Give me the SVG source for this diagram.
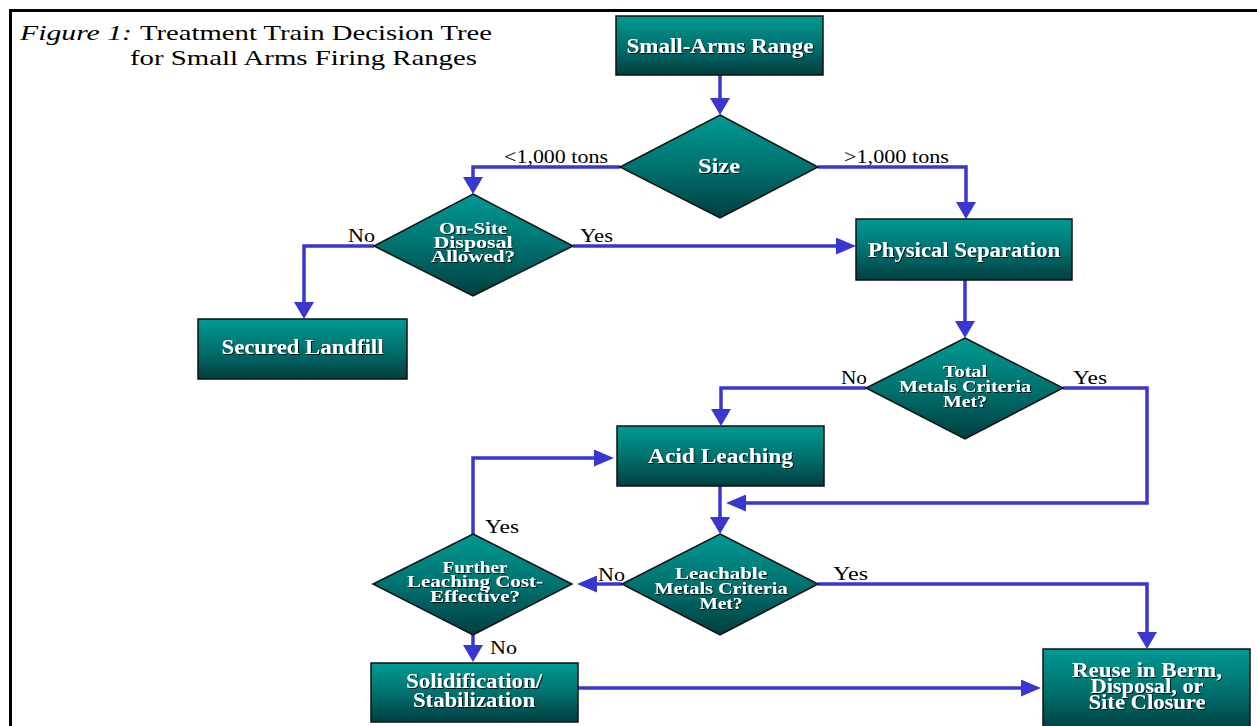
<svg xmlns="http://www.w3.org/2000/svg" width="1257" height="726" viewBox="0 0 1257 726">
<style>
.box{fill:url(#gr);stroke:#111;stroke-width:1.5}
.nt{fill:#fff;font-family:"Liberation Serif","Times New Roman",serif;font-weight:bold;font-size:20px;text-anchor:middle;filter:url(#sh)}
.dt{fill:#fff;font-family:"Liberation Serif","Times New Roman",serif;font-weight:bold;font-size:16px;text-anchor:middle;filter:url(#sh)}
.lb{fill:#000;font-family:"Liberation Serif","Times New Roman",serif;font-size:18px}
.ti{fill:#000;font-family:"Liberation Serif","Times New Roman",serif;font-size:21px}
.cn{fill:none;stroke:#3a36d0;stroke-width:3.5}
</style>
<defs>
<linearGradient id="gr" x1="0" y1="0" x2="0" y2="1">
<stop offset="0" stop-color="#009a94"/>
<stop offset="0.5" stop-color="#00726f"/>
<stop offset="1" stop-color="#003f40"/>
</linearGradient>
<filter id="sh" x="-10%" y="-30%" width="120%" height="160%">
<feDropShadow dx="1" dy="1" stdDeviation="0.6" flood-color="#000" flood-opacity="0.85"/>
</filter>
<marker id="av" markerUnits="userSpaceOnUse" viewBox="0 0 17 20" markerWidth="17" markerHeight="20" refX="12" refY="10" orient="auto">
<path d="M0,0 L17,10 L0,20 z" fill="#3a36d0"/>
</marker>
<marker id="ah" markerUnits="userSpaceOnUse" viewBox="0 0 20 17" markerWidth="20" markerHeight="17" refX="15" refY="8.5" orient="auto">
<path d="M0,0 L20,8.5 L0,17 z" fill="#3a36d0"/>
</marker>
</defs>
<rect width="1257" height="726" fill="#fff"/>
<g id="frame">
<path d="M10.5,726 V10.5 H1257" fill="none" stroke="#000" stroke-width="3"/>
</g>
<g id="title">
<text class="ti" x="20" y="40" font-style="italic" textLength="112" lengthAdjust="spacingAndGlyphs">Figure 1:</text>
<text class="ti" x="140" y="40" textLength="352" lengthAdjust="spacingAndGlyphs">Treatment Train Decision Tree</text>
<text class="ti" x="130" y="65" textLength="347" lengthAdjust="spacingAndGlyphs">for Small Arms Firing Ranges</text>
</g>
<g id="connectors">
<path class="cn" d="M720,75 V110" marker-end="url(#av)"/>
<path class="cn" d="M620,167 H473 V189" marker-end="url(#av)"/>
<path class="cn" d="M818,167 H966 V214" marker-end="url(#av)"/>
<path class="cn" d="M573,246 H851" marker-end="url(#ah)"/>
<path class="cn" d="M374,246 H304 V314" marker-end="url(#av)"/>
<path class="cn" d="M965,280 V333" marker-end="url(#av)"/>
<path class="cn" d="M866,388 H721 V421" marker-end="url(#av)"/>
<path class="cn" d="M1063,388 H1147 V503 H731" marker-end="url(#ah)"/>
<path class="cn" d="M720,486 V529" marker-end="url(#av)"/>
<path class="cn" d="M622,584 H582" marker-end="url(#ah)"/>
<path class="cn" d="M818,584 H1147 V644" marker-end="url(#av)"/>
<path class="cn" d="M473,534 V458 H609" marker-end="url(#ah)"/>
<path class="cn" d="M473,635 V657" marker-end="url(#av)"/>
<path class="cn" d="M578,688 H1036" marker-end="url(#ah)"/>
<text class="lb" x="504" y="163" textLength="104" lengthAdjust="spacingAndGlyphs">&lt;1,000 tons</text>
<text class="lb" x="844" y="163" textLength="105" lengthAdjust="spacingAndGlyphs">&gt;1,000 tons</text>
<text class="lb" x="348" y="242" textLength="27" lengthAdjust="spacingAndGlyphs">No</text>
<text class="lb" x="580" y="242" textLength="33" lengthAdjust="spacingAndGlyphs">Yes</text>
<text class="lb" x="841" y="384" textLength="26" lengthAdjust="spacingAndGlyphs">No</text>
<text class="lb" x="1073" y="384" textLength="34" lengthAdjust="spacingAndGlyphs">Yes</text>
<text class="lb" x="485" y="533" textLength="34" lengthAdjust="spacingAndGlyphs">Yes</text>
<text class="lb" x="598" y="581" textLength="27" lengthAdjust="spacingAndGlyphs">No</text>
<text class="lb" x="833" y="580" textLength="35" lengthAdjust="spacingAndGlyphs">Yes</text>
<text class="lb" x="490" y="654" textLength="27" lengthAdjust="spacingAndGlyphs">No</text>
</g>
<g id="small-arms-range">
<rect class="box" x="616" y="16" width="207" height="59"/>
<text class="nt" x="720" y="53" textLength="187" lengthAdjust="spacingAndGlyphs">Small-Arms Range</text>
</g>
<g id="size">
<polygon class="box" points="720,115 818,167 720,218 620,167"/>
<text class="nt" x="719" y="173" textLength="42" lengthAdjust="spacingAndGlyphs">Size</text>
</g>
<g id="on-site-disposal">
<polygon class="box" points="473,194 573,246 473,296 374,246"/>
<text class="dt" x="473" y="234" textLength="68" lengthAdjust="spacingAndGlyphs">On-Site</text>
<text class="dt" x="473" y="248" textLength="79" lengthAdjust="spacingAndGlyphs">Disposal</text>
<text class="dt" x="473" y="262" textLength="84" lengthAdjust="spacingAndGlyphs">Allowed?</text>
</g>
<g id="physical-separation">
<rect class="box" x="856" y="219" width="216" height="61"/>
<text class="nt" x="964" y="257" textLength="192" lengthAdjust="spacingAndGlyphs">Physical Separation</text>
</g>
<g id="secured-landfill">
<rect class="box" x="198" y="319" width="209" height="60"/>
<text class="nt" x="302.5" y="354" textLength="162" lengthAdjust="spacingAndGlyphs">Secured Landfill</text>
</g>
<g id="total-metals">
<polygon class="box" points="965,338 1063,388 965,439 866,388"/>
<text class="dt" x="965" y="377" textLength="44" lengthAdjust="spacingAndGlyphs">Total</text>
<text class="dt" x="965" y="392" textLength="132" lengthAdjust="spacingAndGlyphs">Metals Criteria</text>
<text class="dt" x="965" y="407" textLength="44" lengthAdjust="spacingAndGlyphs">Met?</text>
</g>
<g id="acid-leaching">
<rect class="box" x="617" y="426" width="207" height="60"/>
<text class="nt" x="720.5" y="463" textLength="145" lengthAdjust="spacingAndGlyphs">Acid Leaching</text>
</g>
<g id="leachable-metals">
<polygon class="box" points="720,534 818,584 720,635 622,584"/>
<text class="dt" x="721" y="579" textLength="92" lengthAdjust="spacingAndGlyphs">Leachable</text>
<text class="dt" x="721" y="594" textLength="133" lengthAdjust="spacingAndGlyphs">Metals Criteria</text>
<text class="dt" x="721" y="609" textLength="43" lengthAdjust="spacingAndGlyphs">Met?</text>
</g>
<g id="further-leaching">
<polygon class="box" points="473,534 572,584 473,635 373,584"/>
<text class="dt" x="475" y="573" textLength="65" lengthAdjust="spacingAndGlyphs">Further</text>
<text class="dt" x="475" y="587" textLength="136" lengthAdjust="spacingAndGlyphs">Leaching Cost-</text>
<text class="dt" x="475" y="602" textLength="90" lengthAdjust="spacingAndGlyphs">Effective?</text>
</g>
<g id="solidification">
<rect class="box" x="371" y="663" width="207" height="59"/>
<text class="nt" x="474" y="688" font-size="18" textLength="136" lengthAdjust="spacingAndGlyphs">Solidification/</text>
<text class="nt" x="474" y="707" font-size="18" textLength="122" lengthAdjust="spacingAndGlyphs">Stabilization</text>
</g>
<g id="reuse">
<rect class="box" x="1043" y="649" width="207" height="82"/>
<text class="nt" x="1147" y="677" font-size="18" textLength="150" lengthAdjust="spacingAndGlyphs">Reuse in Berm,</text>
<text class="nt" x="1147" y="693" font-size="18" textLength="113" lengthAdjust="spacingAndGlyphs">Disposal, or</text>
<text class="nt" x="1147" y="709" font-size="18" textLength="117" lengthAdjust="spacingAndGlyphs">Site Closure</text>
</g>
</svg>
